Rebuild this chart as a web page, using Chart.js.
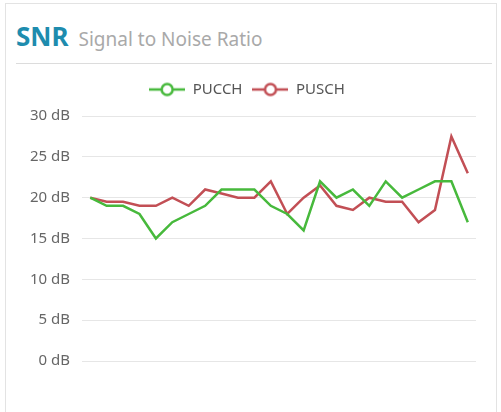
<!DOCTYPE html>
<html lang="en">
<head>
    <meta charset="utf-8" />
    <title>SNR</title>
    <style>
        body { margin: 0; background: #fff; font-family: "Noto Sans", sans-serif; }
        .card {
            position: absolute; left: 5px; top: 3px; width: 490px; height: 420px;
            border: 1px solid #e3e3e3; background: #fff;
        }
        .card-header {
            position: absolute; left: 10px; top: 12px; width: 476px; height: 47px;
            border-bottom: 1px solid #dcdcdc; line-height: 40px; white-space: nowrap;
        }
        .card-header .title { font-size: 26px; font-weight: 700; color: #1e8cae; }
        .card-header .sub { font-size: 19px; color: #a9a9a9; margin-left: 10px; }
        .chart-box { position: absolute; left: 0; top: 68px; width: 485px; height: 310px; }
    </style>
</head>
<body>
    <div class="card">
        <div class="card-header"><span class="title">SNR</span><span class="sub">Signal to Noise Ratio</span></div>
        <div class="chart-box"><canvas id="snrChart"></canvas></div>
    </div>
    <script src="https://cdn.jsdelivr.net/npm/chart.js@4.4.1/dist/chart.umd.min.js"></script>
    <script>
        const labels = ['1', '2', '3', '4', '5', '6', '7', '8', '9', '10', '11', '12',
            '13', '14', '15', '16', '17', '18', '19', '20', '21', '22', '23', '24'];
        const pucch = [20, 19, 19, 18, 15, 17, 18, 19, 21, 21, 21, 19, 18, 16, 22, 20, 21, 19, 22, 20, 21, 22, 22, 17];
        const pusch = [20, 19.5, 19.5, 19, 19, 20, 19, 21, 20.5, 20, 20, 22, 18, 20, 21.5, 19, 18.5, 20, 19.5, 19.5, 17, 18.5, 27.5, 23];
        const yTicks = [0, 5, 10, 15, 20, 25, 30];

        // legend marker: short line with a hollow circle in the middle
        function legendIcon(color) {
            var c = document.createElement('canvas');
            c.width = 36; c.height = 16;
            var g = c.getContext('2d');
            g.strokeStyle = color;
            g.lineWidth = 2.5;
            g.beginPath(); g.moveTo(0, 8); g.lineTo(36, 8); g.stroke();
            g.beginPath(); g.arc(18, 8, 5.5, 0, Math.PI * 2);
            g.fillStyle = '#fff'; g.fill(); g.stroke();
            return c;
        }

        // a little more room between legend and plot
        const legendGap = {
            id: 'legendGap',
            beforeInit: function (chart) {
                var fit = chart.legend.fit;
                chart.legend.fit = function () {
                    fit.bind(chart.legend)();
                    this.height += 9;
                };
            }
        };

        var ctx = document.getElementById('snrChart').getContext('2d');
        new Chart(ctx, {
            type: 'line',
            data: {
                labels: labels,
                datasets: [{
                    label: 'PUCCH',
                    data: pucch,
                    borderColor: '#47b93c',
                    borderWidth: 2.5,
                    pointRadius: 0,
                    pointStyle: legendIcon('#47b93c'),
                    tension: 0
                }, {
                    label: 'PUSCH',
                    data: pusch,
                    borderColor: '#c24f55',
                    borderWidth: 2.5,
                    pointRadius: 0,
                    pointStyle: legendIcon('#c24f55'),
                    tension: 0
                }]
            },
            plugins: [legendGap],
            options: {
                responsive: true,
                maintainAspectRatio: false,
                animation: false,
                layout: { padding: { left: 12, right: 15, top: 0, bottom: 0 } },
                plugins: {
                    legend: {
                        labels: {
                            usePointStyle: true,
                            pointStyleWidth: 36,
                            padding: 10,
                            color: '#555',
                            font: { family: 'Noto Sans', size: 15 }
                        }
                    },
                    tooltip: { enabled: false }
                },
                scales: {
                    x: {
                        offset: true,
                        ticks: { display: false },
                        grid: { display: false },
                        border: { display: false }
                    },
                    y: {
                        min: 0,
                        max: 30,
                        afterBuildTicks: function (axis) {
                            axis.ticks = yTicks.map(function (v) { return { value: v }; });
                        },
                        ticks: {
                            padding: 12,
                            color: '#666',
                            font: { family: 'Noto Sans', size: 15 },
                            callback: function (v) { return v + ' dB'; }
                        },
                        grid: { color: '#e6e6e6', drawTicks: false },
                        border: { display: false }
                    }
                }
            }
        });
    </script>
</body>
</html>
